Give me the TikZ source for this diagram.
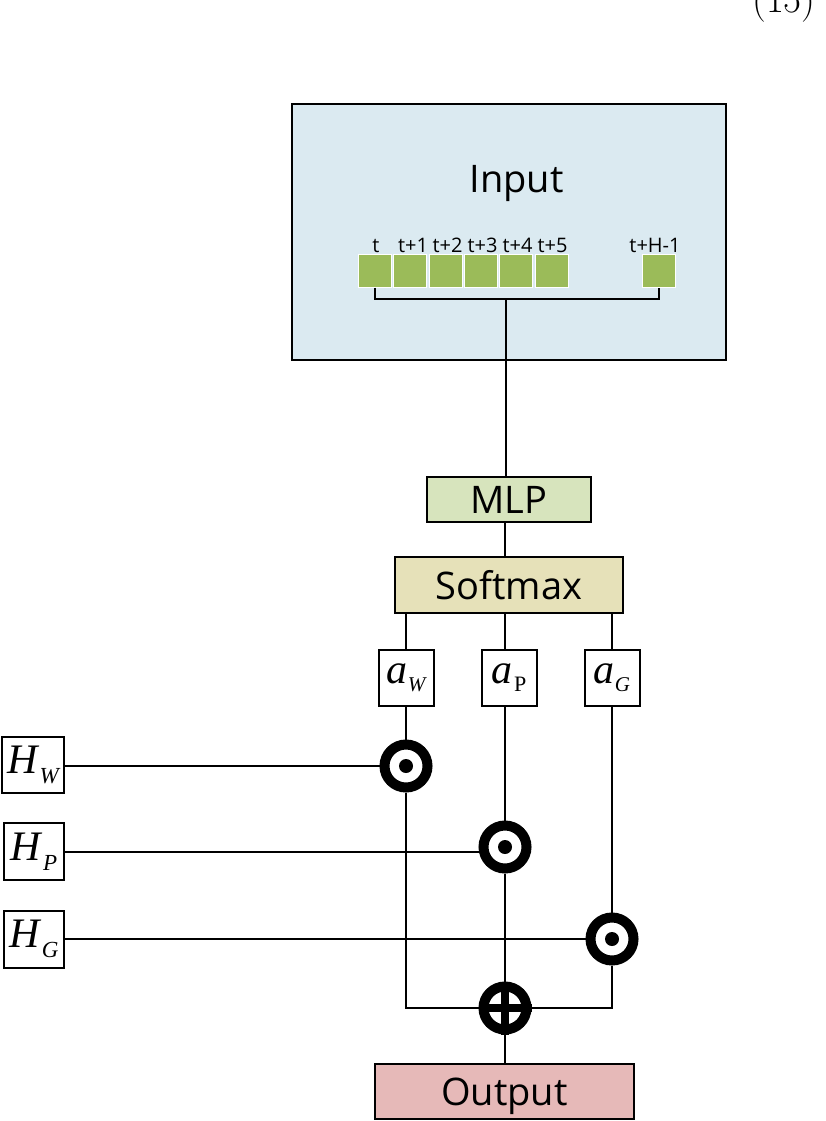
\documentclass[tikz,border=0pt]{standalone}
\usepackage{fontspec}
\newfontfamily\sansf{Open Sans}
\newfontfamily\tnr{Liberation Serif}
\newfontfamily\lmr{Latin Modern Roman}
\definecolor{inputbg}{HTML}{DBEAF1}
\definecolor{sqgreen}{HTML}{9BBB59}
\definecolor{mlpbg}{HTML}{D7E4BD}
\definecolor{softbg}{HTML}{E6E1B9}
\definecolor{outbg}{HTML}{E6B9B8}
\tikzset{
  conn/.style={line width=2pt},
  bigbox/.style={draw, line width=2.2pt, inner sep=0pt, text height=28pt, text depth=0pt, font=\sansf\fontsize{38}{38}\selectfont},
  sq/.style={fill=sqgreen, draw=white, line width=1pt, minimum width=33pt, minimum height=33pt, inner sep=0pt},
  sqlbl/.style={font=\sansf\fontsize{20}{20}\selectfont, inner sep=0pt, anchor=base},
  abox/.style={draw, line width=2pt, minimum width=55pt, minimum height=56pt, inner sep=0pt},
  hbox/.style={draw, line width=2pt, minimum width=61pt, minimum height=57pt, inner sep=0pt},
  odot/.style={circle, draw, line width=10pt, minimum size=43pt, inner sep=0pt},
}
\newcommand{\avar}[1]{{\tnr\fontsize{42}{42}\selectfont\itshape a\raisebox{-8pt}{\fontsize{21}{21}\selectfont #1}}}
\newcommand{\hvar}[1]{{\tnr\fontsize{42}{42}\selectfont\itshape H\kern2pt\raisebox{-10pt}{\fontsize{23}{23}\selectfont #1}}}
\begin{document}
\begin{tikzpicture}[x=1pt,y=-1pt]
\clip (0,0) rectangle (826,1121);
\fill[white] (0,0) rectangle (826,1121);

% equation number (cut off at top, as in the reference)
\node[anchor=base west, inner sep=0pt, font=\lmr\fontsize{39}{39}\selectfont] (eqn) at (752,13) {(15)};

% Input box
\node[draw, line width=2.2pt, fill=inputbg, minimum width=434pt, minimum height=256pt, inner sep=0pt] (input) at (509,232) {};
\node[font=\sansf\fontsize{38}{38}\selectfont, inner sep=0pt, anchor=base] (inputtxt) at (516.5,192) {Input};

% squares
\node[sq] (s1) at (374.5,270.5) {};
\node[sq] (s2) at (409.5,270.5) {};
\node[sq] (s3) at (445.5,270.5) {};
\node[sq] (s4) at (480.5,270.5) {};
\node[sq] (s5) at (516,270.5) {};
\node[sq] (s6) at (551.5,270.5) {};
\node[sq] (sH) at (658.5,270.5) {};
\node[sqlbl] (l1) at (376,252) {t};
\node[sqlbl] (l2) at (413,252) {t+1};
\node[sqlbl] (l3) at (447.5,252) {t+2};
\node[sqlbl] (l4) at (482.5,252) {t+3};
\node[sqlbl] (l5) at (517.5,252) {t+4};
\node[sqlbl] (l6) at (552.5,252) {t+5};
\node[sqlbl] (lH) at (655,252) {t+H-1};

\coordinate (brk) at (506,299);
\draw[conn] (s1.south) |- (brk) -| (sH.south);

% MLP and Softmax
\node[bigbox, fill=mlpbg, minimum width=164pt, minimum height=45pt] (mlp) at (509,499.5) {MLP};
\node[bigbox, fill=softbg, minimum width=228pt, minimum height=56pt] (soft) at (509,585) {Softmax};
\draw[conn] (brk) -- (mlp.north -| brk);
\coordinate (spine) at (505,540);
\draw[conn] (mlp.south -| spine) -- (soft.north -| spine);

% a boxes
\node[abox] (aW) at (406,678) {\avar{W}};
\node[abox] (aP) at (509,678) {{\tnr\fontsize{42}{42}\selectfont\itshape a}\,{\tnr\fontsize{22}{22}\selectfont\raisebox{-8pt}{P}}};
\node[abox] (aG) at (612,678) {\avar{G}};

% operator circles
\node[odot] (cW) at (406,766) {};
\node[odot] (cP) at (505,847) {};
\node[odot] (cG) at (612,939) {};
\fill (cW.center) circle[radius=7];
\fill (cP.center) circle[radius=7];
\fill (cG.center) circle[radius=7];
\node[odot] (plus) at (505,1008) {};
\draw[line width=8pt] (plus.north) -- (plus.south);
\draw[line width=8pt] (plus.west) -- (plus.east);

% H boxes
\node[hbox, minimum width=62pt, minimum height=56pt] (HW) at (33,765) {\hvar{W}};
\node[hbox, minimum width=60pt] (HP) at (34,851.5) {\hvar{P}};
\node[hbox, minimum width=60pt] (HG) at (34,939) {\hvar{G}};

% Output
\node[bigbox, fill=outbg, minimum width=259pt, minimum height=55pt] (out) at (504.5,1091.5) {Output};

% connectors
\draw[conn] (soft.south -| aW) -- (aW.north);
\draw[conn] (soft.south -| cP) -- (aP.north -| cP);
\draw[conn] (soft.south -| aG) -- (aG.north);
\draw[conn] (aW.south) -- (cW.north);
\draw[conn] (aP.south -| cP) -- (cP.north);
\draw[conn] (aG.south) -- (cG.north);
\draw[conn] (HW.east |- cW) -- (cW.west);
\draw[conn] (HP.east) -- (cP.west |- HP.east);
\draw[conn] (HG.east) -- (cG.west);
\draw[conn] (cW.south) |- (plus.west);
\draw[conn] (cG.south) |- (plus.east);
\draw[conn] (cP.south) -- (plus.north);
\draw[conn] (plus.south) -- (out.north -| plus);
\end{tikzpicture}
\end{document}
